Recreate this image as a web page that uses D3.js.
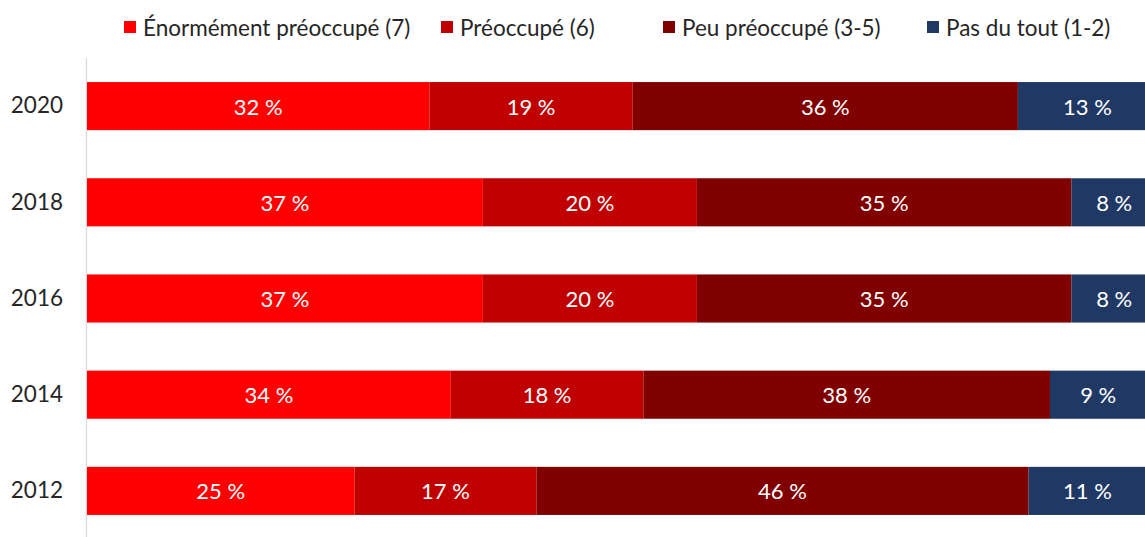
<!DOCTYPE html>
<html><head><meta charset="utf-8">
<script src="https://cdn.jsdelivr.net/npm/d3@7"></script>
<style>
html,body{margin:0;padding:0;background:#fff;overflow:hidden}
text{font-family:Lato,"Open Sans",sans-serif}
</style></head>
<body>
<svg id="c" width="1145" height="537"></svg>
<script>
const years = ["2020","2018","2016","2014","2012"];
const seriesNames = ["Énormément préoccupé (7)","Préoccupé (6)","Peu préoccupé (3-5)","Pas du tout (1-2)"];
const enorme = [32,37,37,34,25];
const preoccupe = [19,20,20,18,17];
const peu = [36,35,35,38,46];
const pasDuTout = [13,8,8,9,11];
const colors = ["#FF0000","#C00000","#800000","#1F3864"];

const svg = d3.select("#c");
const W = 1145, H = 537;
const x0 = 87, x1 = 1157, yTop = 58, yBot = 539;

const rows = years.map((y,i)=>({year:y, vals:[enorme[i],preoccupe[i],peu[i],pasDuTout[i]]}));
const x = d3.scaleLinear().domain([0,100]).range([x0,x1]);
const y = d3.scaleBand().domain(years).range([yTop,yBot]).paddingInner(0.5).paddingOuter(0.25);

// axis line
svg.append("line").attr("x1",x0-0.5).attr("x2",x0-0.5).attr("y1",yTop).attr("y2",H)
  .attr("stroke","#D9D9D9").attr("stroke-width",1.3);

const yAxis = d3.axisLeft(y).tickSize(0).tickPadding(24);
const ga = svg.append("g").attr("transform",`translate(${x0},0)`).call(yAxis);
ga.select(".domain").remove();
ga.selectAll("text").attr("font-size",22.5).attr("fill","#262626").attr("font-family","Lato");

rows.forEach(r=>{
  let cum = 0;
  const segs = r.vals.map((v,k)=>{const s={k,v,start:cum}; cum+=v; return s;});
  const g = svg.append("g");
  g.selectAll("rect").data(segs).join("rect")
    .attr("x",d=>x(d.start)).attr("width",d=>x(d.start+d.v)-x(d.start))
    .attr("y",y(r.year)).attr("height",y.bandwidth())
    .attr("fill",d=>colors[d.k]);
  g.selectAll("text").data(segs).join("text")
    .attr("x",d=>x(d.start+d.v/2)).attr("y",y(r.year)+y.bandwidth()/2)
    .attr("text-anchor","middle").attr("dominant-baseline","central")
    .attr("fill","#fff").attr("font-size",22)
    .text(d=>d.v+" %");
});

// legend
const legX = [124,441,663,927];
const lg = svg.append("g");
seriesNames.forEach((n,i)=>{
  lg.append("rect").attr("x",legX[i]).attr("y",21).attr("width",12).attr("height",12).attr("fill",colors[i]);
  lg.append("text").attr("x",legX[i]+19).attr("y",27).attr("dominant-baseline","central")
    .attr("font-size",22.5).attr("fill","#262626").text(n);
});
</script>
</body></html>
